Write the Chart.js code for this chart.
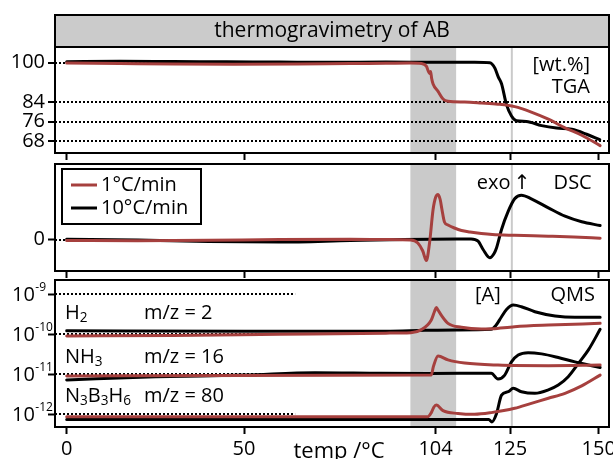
<!DOCTYPE html>
<html lang="en">
<head>
<meta charset="utf-8">
<title>thermogravimetry of AB</title>
<script src="https://cdn.jsdelivr.net/npm/chart.js@4.4.1/dist/chart.umd.min.js"></script>
<style>
  html, body { margin: 0; padding: 0; background: #fff; }
  #wrap { position: relative; width: 613px; height: 459px; overflow: hidden; }
  #wrap canvas { position: absolute; left: 0; top: 0; }
</style>
</head>
<body>
<div id="wrap">
  <canvas id="tga" width="613" height="459"></canvas>
  <canvas id="dsc" width="613" height="459"></canvas>
  <canvas id="qms" width="613" height="459"></canvas>
</div>
<script>
const FONT = '"Open Sans", "DejaVu Sans", sans-serif';
const RED = '#a6403e';
const BLACK = '#000';
const BAND = '#cacaca';

const rates = ['1°C/min', '10°C/min'];

// temperature axis [°C]
const tempTicks = [0, 50, 104, 125, 150];
const tempRange = [-3.3, 152.9];
const decompBand = [96.9, 109.8];
const markerTemp = 125.5;

// TGA, mass [wt.%]
const massTicks = [100, 84, 76, 68];
const tgaFastTemp = [0, 15, 30, 45, 60, 75, 90, 105, 115, 119.3, 120.7, 121.7, 122.6, 124.0, 125.4, 126.8, 129.6, 133.9, 138.1, 142.4, 146.6, 150.3];
const tgaFastMass = [100.3, 100.5, 100.4, 100.3, 100.2, 100.1, 100.2, 100.1, 100.1, 99.9, 97.8, 94.1, 91.4, 82.9, 78.3, 76.4, 76.1, 74.4, 73.4, 72.9, 70.9, 68.7];
const tgaSlowTemp = [0, 15, 30, 47, 65, 80, 90, 97, 100, 101.4, 102.3, 102.6, 102.9, 103.3, 104.7, 106.1, 107.5, 112.2, 116.9, 121.6, 126.3, 131.0, 135.8, 140.5, 145.2, 150.4];
const tgaSlowMass = [99.8, 99.6, 99.4, 99.3, 99.4, 99.6, 99.7, 99.8, 99.6, 98.5, 95.6, 96.4, 93.5, 91.3, 88.3, 85.2, 84.3, 84.0, 83.6, 83.1, 82.1, 79.9, 77.0, 73.5, 70.5, 66.3];

// DSC, heat flow [arb. units], exo up
const dscTicks = [0];
const dscSlowTemp = [0, 20, 40, 60, 80, 90, 97, 99, 100.4, 101.4, 102.3, 103.3, 104.0, 104.7, 105.3, 105.8, 106.5, 107.5, 109.3, 111.3, 113.7, 116.9, 120.0, 126.3, 135.8, 143.0, 150.4];
const dscSlowFlow = [-0.1, -0.12, -0.08, 0, 0.02, 0, -0.05, -0.35, -1.15, -2.1, -0.35, 3.0, 4.2, 4.5, 4.0, 3.0, 1.75, 1.45, 1.15, 0.9, 0.75, 0.6, 0.5, 0.42, 0.33, 0.25, 0.13];
const dscFastTemp = [0, 20, 40, 60, 80, 95, 110, 114, 116, 117.4, 119.3, 120.5, 121.2, 122.6, 124.5, 126.3, 128.2, 131.0, 135.8, 140.5, 145.2, 150.4];
const dscFastFlow = [0.03, -0.05, -0.2, -0.25, -0.1, 0, 0.05, 0.05, -0.17, -1.0, -1.83, -1.4, -0.83, 1.0, 2.83, 4.07, 4.43, 4.07, 3.17, 2.33, 1.77, 1.4];

// QMS ion currents [A]
const qmsTicks = [1e-12, 1e-11, 1e-10, 1e-9];
const species = ['H_2', 'NH_3', 'N_3B_3H_6'];
const massCharge = ['m/z = 2', 'm/z = 16', 'm/z = 80'];

const h2FastTemp = [0, 50, 90, 101, 110, 119.7, 121, 122.6, 124, 125.9, 128.2, 132, 137.7, 143.3, 150.4];
const h2FastCurrent = [1.23e-10, 1.20e-10, 1.20e-10, 1.26e-10, 1.29e-10, 1.33e-10, 1.66e-10, 2.75e-10, 4.17e-10, 5.37e-10, 4.90e-10, 3.67e-10, 2.88e-10, 2.66e-10, 2.66e-10];
const h2SlowTemp = [0, 30, 60, 90, 97, 99.9, 102.8, 103.7, 104.2, 104.6, 105.6, 107.5, 111.3, 116.9, 120, 126.3, 135.8, 150.4];
const h2SlowCurrent = [9.1e-11, 9.3e-11, 1.0e-10, 1.07e-10, 1.10e-10, 1.29e-10, 2.29e-10, 3.72e-10, 4.68e-10, 4.17e-10, 3.02e-10, 1.88e-10, 1.50e-10, 1.35e-10, 1.38e-10, 1.55e-10, 1.70e-10, 1.88e-10];

const nh3FastTemp = [0, 25, 50, 70, 88.6, 102, 119.7, 121.6, 123.5, 125.4, 127.3, 130.1, 133.9, 138.6, 143.3, 150.4];
const nh3FastCurrent = [7.24e-12, 8.7e-12, 9.55e-12, 1.10e-11, 1.06e-11, 1.05e-11, 1.06e-11, 7.59e-12, 9.55e-12, 2.04e-11, 3.02e-11, 3.47e-11, 3.24e-11, 2.63e-11, 2.04e-11, 1.48e-11];
const nh3SlowTemp = [0, 50, 102.8, 103.4, 104.7, 107.5, 112.2, 121.6, 135.8, 150.4];
const nh3SlowCurrent = [9.1e-12, 9.3e-12, 9.55e-12, 1.58e-11, 2.88e-11, 2.29e-11, 1.91e-11, 1.70e-11, 1.64e-11, 1.70e-11];

const borazineFastTemp = [0, 60, 119, 119.9, 121.2, 122.6, 124.5, 125.9, 128.2, 132, 135.8, 138.6, 141.4, 144.3, 147.1, 150.4];
const borazineFastCurrent = [7.4e-13, 7.4e-13, 7.4e-13, 6.46e-13, 1.05e-12, 3.02e-12, 3.67e-12, 4.47e-12, 3.67e-12, 3.35e-12, 4.07e-12, 5.37e-12, 8.7e-12, 1.88e-11, 4.07e-11, 1.33e-10];
const borazineSlowTemp = [0, 60, 101.8, 102.8, 103.5, 104.2, 106.1, 110.3, 115, 119.7, 126.3, 131, 135.8, 140.5, 145.2, 150.4];
const borazineSlowCurrent = [8.7e-13, 8.7e-13, 8.7e-13, 1.1e-12, 1.5e-12, 1.70e-12, 1.23e-12, 1.05e-12, 1.0e-12, 1.10e-12, 1.41e-12, 1.88e-12, 2.51e-12, 3.35e-12, 5.13e-12, 9.55e-12];

Chart.defaults.font.family = FONT;
Chart.defaults.color = BLACK;

function series(label, color, xs, ys) {
  return {
    label: label,
    data: xs.map((t, i) => ({ x: t, y: ys[i] })),
    borderColor: color,
    backgroundColor: color,
    fill: false
  };
}

// text with '_' marking a lowered (subscript) character
function drawMarked(ctx, str, x, y, size) {
  let cx = x;
  for (let i = 0; i < str.length; i++) {
    let ch = str[i], shift = 0, fs = size;
    if (ch === '_') { ch = str[++i]; shift = size * 0.28; fs = size * 0.68; }
    ctx.font = fs + 'px ' + FONT;
    ctx.fillText(ch, cx, y + shift);
    cx += ctx.measureText(ch).width;
  }
  return cx;
}

function tempAxis(showLabels, axisHeight) {
  return {
    type: 'linear',
    min: tempRange[0],
    max: tempRange[1],
    bounds: 'data',
    afterBuildTicks: s => { s.ticks = tempTicks.map(v => ({ value: v })); },
    afterFit: s => { s.height = axisHeight; s.paddingLeft = 0; s.paddingRight = 0; },
    grid: { drawOnChartArea: false, drawTicks: true, tickLength: 7, tickWidth: 2, tickColor: BLACK },
    border: { display: false },
    ticks: {
      display: showLabels, autoSkip: false, maxRotation: 0, padding: 3,
      color: BLACK, font: { family: FONT, size: 20 }
    }
  };
}

function valueAxis(extra) {
  return Object.assign({
    bounds: 'data',
    afterFit: s => { s.width = 55; s.paddingTop = 0; s.paddingBottom = 0; },
    grid: { drawOnChartArea: false, drawTicks: true, tickLength: 7, tickWidth: 2, tickColor: BLACK },
    border: { display: false },
    ticks: { padding: 3, color: BLACK, font: { family: FONT, size: 20 } }
  }, extra);
}

function baseOptions(pad, xAxis, yAxis) {
  return {
    responsive: false,
    animation: false,
    events: [],
    devicePixelRatio: 1,
    layout: { padding: pad },
    plugins: { legend: { display: false }, tooltip: { enabled: false } },
    elements: {
      point: { radius: 0 },
      line: { borderWidth: 3, cubicInterpolationMode: 'monotone', borderJoinStyle: 'round', borderCapStyle: 'round' }
    },
    scales: { x: xAxis, y: yAxis }
  };
}

// shaded window, marker line, short dotted reference lines, frame and notes
function panelDecor(cfg) {
  return {
    id: 'panelDecor',
    beforeDraw(chart) {
      const { ctx, chartArea: a, scales: { x } } = chart;
      ctx.save();
      const x0 = x.getPixelForValue(decompBand[0]);
      const x1 = x.getPixelForValue(decompBand[1]);
      ctx.fillStyle = BAND;
      ctx.fillRect(x0, a.top, x1 - x0, a.bottom - a.top);
      const xm = x.getPixelForValue(markerTemp);
      ctx.strokeStyle = BAND;
      ctx.lineWidth = 2;
      ctx.beginPath();
      ctx.moveTo(xm, a.top);
      ctx.lineTo(xm, a.bottom);
      ctx.stroke();
      ctx.restore();
    },
    beforeDatasetsDraw(chart) {
      if (!cfg.stubs) return;
      const { ctx, chartArea: a, scales: { x, y } } = chart;
      const xe = x.getPixelForValue(cfg.stubEnd);
      ctx.save();
      ctx.setLineDash([2, 2]);
      ctx.lineWidth = 2;
      ctx.strokeStyle = BLACK;
      cfg.stubs.forEach(v => {
        const py = Math.round(y.getPixelForValue(v));
        ctx.beginPath();
        ctx.moveTo(a.left, py);
        ctx.lineTo(xe, py);
        ctx.stroke();
      });
      ctx.restore();
    },
    afterDraw(chart) {
      const { ctx, chartArea: a } = chart;
      ctx.save();
      ctx.strokeStyle = BLACK;
      ctx.lineWidth = 2;
      ctx.strokeRect(a.left, a.top, a.right - a.left, a.bottom - a.top);
      ctx.fillStyle = BLACK;
      ctx.textBaseline = 'middle';
      (cfg.notes || []).forEach(n => {
        ctx.font = (n.size || 20) + 'px ' + FONT;
        ctx.textAlign = n.right ? 'right' : 'left';
        const px = n.right ? a.right - n.dx : a.left + n.dx;
        ctx.fillText(n.text, px, a.top + n.dy);
      });
      if (cfg.draw) cfg.draw(chart);
      ctx.restore();
    }
  };
}

// --- TGA panel ---
new Chart(document.getElementById('tga'), {
  type: 'line',
  data: {
    datasets: [
      series(rates[0], RED, tgaSlowTemp, tgaSlowMass),
      series(rates[1], BLACK, tgaFastTemp, tgaFastMass)
    ]
  },
  options: baseOptions(
    { top: 47, right: 4, bottom: 459 - 153 - 10, left: 0 },
    tempAxis(false, 10),
    valueAxis({
      type: 'linear', min: 63.3, max: 106.3,
      afterBuildTicks: s => { s.ticks = massTicks.map(v => ({ value: v })); },
      grid: {
        drawOnChartArea: true,
        // the 100 % line only runs under the plateau, see stubs below
        color: c => (c.tick && c.tick.value === massTicks[0]) ? 'rgba(0,0,0,0)' : BLACK,
        lineWidth: 2, drawTicks: true, tickLength: 7, tickWidth: 2, tickColor: BLACK, tickBorderDash: []
      },
      border: { display: false, dash: [2, 2] }
    })
  ),
  plugins: [panelDecor({
    stubs: [massTicks[0]],
    stubEnd: 60,
    notes: [
      { text: '[wt.%]', dx: 19, dy: 18, right: true },
      { text: 'TGA', dx: 19, dy: 40, right: true }
    ],
    draw(chart) {
      const { ctx, chartArea: a } = chart;
      ctx.fillStyle = '#cbcbcb';
      ctx.fillRect(a.left, 15, a.right - a.left, a.top - 15);
      ctx.strokeRect(a.left, 15, a.right - a.left, a.top - 15);
      ctx.fillStyle = BLACK;
      ctx.font = '21px ' + FONT;
      ctx.textAlign = 'center';
      ctx.fillText('thermogravimetry of AB', (a.left + a.right) / 2, 31);
    }
  })]
});

// --- DSC panel ---
new Chart(document.getElementById('dsc'), {
  type: 'line',
  data: {
    datasets: [
      series(rates[0], RED, dscSlowTemp, dscSlowFlow),
      series(rates[1], BLACK, dscFastTemp, dscFastFlow)
    ]
  },
  options: baseOptions(
    { top: 164, right: 4, bottom: 459 - 271 - 10, left: 0 },
    tempAxis(false, 10),
    valueAxis({
      type: 'linear', min: -3.15, max: 7.55,
      afterBuildTicks: s => { s.ticks = dscTicks.map(v => ({ value: v })); }
    })
  ),
  plugins: [panelDecor({
    stubs: dscTicks,
    stubEnd: 78.9,
    notes: [
      { text: 'exo\u2009↑', dx: 421.7, dy: 19 },
      { text: 'DSC', dx: 17.3, dy: 19, right: true }
    ],
    draw(chart) {
      const { ctx, chartArea: a } = chart;
      const bx = a.left + 7, by = a.top + 5;
      ctx.fillStyle = '#fff';
      ctx.fillRect(bx, by, 139, 55);
      ctx.strokeRect(bx, by, 139, 55);
      ctx.font = '20px ' + FONT;
      ctx.textAlign = 'left';
      chart.data.datasets.forEach((ds, i) => {
        const ly = by + 16 + i * 23;
        ctx.strokeStyle = ds.borderColor;
        ctx.lineWidth = 3;
        ctx.beginPath();
        ctx.moveTo(bx + 9, ly);
        ctx.lineTo(bx + 35, ly);
        ctx.stroke();
        ctx.fillStyle = BLACK;
        ctx.fillText(ds.label, bx + 39, ly);
      });
    }
  })]
});

// --- QMS panel ---
new Chart(document.getElementById('qms'), {
  type: 'line',
  data: {
    datasets: [
      series(rates[0], RED, h2SlowTemp, h2SlowCurrent),
      series(rates[0], RED, nh3SlowTemp, nh3SlowCurrent),
      series(rates[0], RED, borazineSlowTemp, borazineSlowCurrent),
      series(rates[1], BLACK, h2FastTemp, h2FastCurrent),
      series(rates[1], BLACK, nh3FastTemp, nh3FastCurrent),
      series(rates[1], BLACK, borazineFastTemp, borazineFastCurrent)
    ]
  },
  options: baseOptions(
    { top: 280, right: 4, bottom: 0, left: 0 },
    tempAxis(true, 32),
    valueAxis({
      type: 'logarithmic', min: 4.81e-13, max: 2.28e-9,
      afterBuildTicks: s => { s.ticks = qmsTicks.map(v => ({ value: v })); },
      ticks: { display: false }
    })
  ),
  plugins: [panelDecor({
    stubs: qmsTicks,
    stubEnd: 64.4,
    notes: [
      { text: '[A]', dx: 420, dy: 15 },
      { text: 'QMS', dx: 14, dy: 15, right: true }
    ],
    draw(chart) {
      const { ctx, chartArea: a, scales: { y } } = chart;
      ctx.fillStyle = BLACK;
      ctx.textAlign = 'left';
      ctx.textBaseline = 'middle';
      // decade labels 10^n
      qmsTicks.forEach(v => {
        const py = y.getPixelForValue(v);
        ctx.font = '20px ' + FONT;
        ctx.fillText('10', a.left - 43, py + 1);
        const w = ctx.measureText('10').width;
        ctx.font = '12px ' + FONT;
        ctx.fillText(String(Math.round(Math.log10(v))), a.left - 43 + w + 0.5, py - 7);
      });
      // species and m/z labels
      const rows = [33, 77, 116];
      species.forEach((s, i) => {
        drawMarked(ctx, s, a.left + 10, a.top + rows[i], 20);
        ctx.font = '20px ' + FONT;
        ctx.fillText(massCharge[i], a.left + 89, a.top + rows[i]);
      });
      // axis title
      ctx.font = '22px ' + FONT;
      ctx.textAlign = 'center';
      ctx.textBaseline = 'alphabetic';
      ctx.fillText('temp /°C', a.left + 284, 458);
    }
  })]
});
</script>
</body>
</html>
